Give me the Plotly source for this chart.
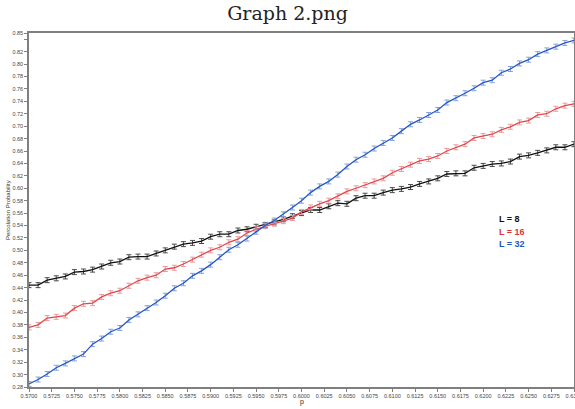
import plotly.graph_objects as go

p_values = [0.570, 0.571, 0.572, 0.573, 0.574, 0.575, 0.576, 0.577, 0.578, 0.579,
            0.580, 0.581, 0.582, 0.583, 0.584, 0.585, 0.586, 0.587, 0.588, 0.589,
            0.590, 0.591, 0.592, 0.593, 0.594, 0.595, 0.596, 0.597, 0.598, 0.599,
            0.600, 0.601, 0.602, 0.603, 0.604, 0.605, 0.606, 0.607, 0.608, 0.609,
            0.610, 0.611, 0.612, 0.613, 0.614, 0.615, 0.616, 0.617, 0.618, 0.619,
            0.620, 0.621, 0.622, 0.623, 0.624, 0.625, 0.626, 0.627, 0.628, 0.629,
            0.630]

prob_L8 = [0.444, 0.444, 0.452, 0.455, 0.458, 0.465, 0.466, 0.469, 0.474, 0.480,
           0.482, 0.489, 0.490, 0.490, 0.495, 0.500, 0.506, 0.510, 0.512, 0.515,
           0.522, 0.526, 0.526, 0.532, 0.534, 0.538, 0.541, 0.545, 0.550, 0.555,
           0.560, 0.565, 0.565, 0.571, 0.576, 0.575, 0.584, 0.588, 0.588, 0.593,
           0.597, 0.599, 0.602, 0.607, 0.611, 0.616, 0.623, 0.624, 0.624, 0.633,
           0.636, 0.639, 0.640, 0.643, 0.651, 0.653, 0.657, 0.661, 0.666, 0.666,
           0.671]

prob_L16 = [0.376, 0.380, 0.391, 0.393, 0.395, 0.407, 0.414, 0.415, 0.425, 0.431,
            0.435, 0.443, 0.451, 0.456, 0.460, 0.470, 0.472, 0.478, 0.485, 0.493,
            0.500, 0.505, 0.513, 0.518, 0.528, 0.534, 0.539, 0.543, 0.547, 0.552,
            0.562, 0.569, 0.575, 0.580, 0.587, 0.595, 0.600, 0.605, 0.611, 0.616,
            0.625, 0.631, 0.638, 0.644, 0.647, 0.652, 0.660, 0.666, 0.671, 0.681,
            0.684, 0.687, 0.694, 0.699, 0.706, 0.709, 0.718, 0.720, 0.728, 0.733,
            0.736]

prob_L32 = [0.285, 0.292, 0.301, 0.311, 0.318, 0.326, 0.333, 0.349, 0.358, 0.369,
            0.375, 0.388, 0.397, 0.407, 0.416, 0.427, 0.439, 0.447, 0.459, 0.467,
            0.477, 0.489, 0.501, 0.509, 0.519, 0.530, 0.540, 0.548, 0.558, 0.569,
            0.580, 0.593, 0.603, 0.611, 0.622, 0.635, 0.646, 0.654, 0.664, 0.673,
            0.681, 0.692, 0.703, 0.710, 0.718, 0.726, 0.738, 0.745, 0.753, 0.761,
            0.770, 0.774, 0.786, 0.792, 0.801, 0.807, 0.816, 0.822, 0.828, 0.834,
            0.838]

err_size = 0.004

series_names = ["L = 8", "L = 16", "L = 32"]

x_tickvals = [0.5700, 0.5725, 0.5750, 0.5775, 0.5800, 0.5825, 0.5850, 0.5875,
              0.5900, 0.5925, 0.5950, 0.5975, 0.6000, 0.6025, 0.6050, 0.6075,
              0.6100, 0.6125, 0.6150, 0.6175, 0.6200, 0.6225, 0.6250, 0.6275, 0.6300]
x_ticktext = ["0.5700", "0.5725", "0.5750", "0.5775", "0.5800", "0.5825", "0.5850", "0.5875",
              "0.5900", "0.5925", "0.5950", "0.5975", "0.6000", "0.6025", "0.6050", "0.6075",
              "0.6100", "0.6125", "0.6150", "0.6175", "0.6200", "0.6225", "0.6250", "0.6275", "0.6300"]

y_tickvals = [0.28, 0.30, 0.32, 0.34, 0.36, 0.38, 0.40, 0.42, 0.44, 0.46, 0.48, 0.50,
              0.52, 0.54, 0.56, 0.58, 0.60, 0.62, 0.64, 0.66, 0.68, 0.70, 0.72, 0.74,
              0.76, 0.78, 0.80, 0.82, 0.84, 0.85]
y_ticktext = ["0.28", "0.30", "0.32", "0.34", "0.36", "0.38", "0.40", "0.42", "0.44", "0.46",
              "0.48", "0.50", "0.52", "0.54", "0.56", "0.58", "0.60", "0.62", "0.64", "0.66",
              "0.68", "0.70", "0.72", "0.74", "0.76", "0.78", "0.80", "0.82", "", "0.85"]

line_colors = ["#111111", "#e0474c", "#2456c8"]
err_colors = ["#4a4a4a", "#e99a9c", "#85a2d8"]
label_colors = ["#111111", "#e0333a", "#2456c8"]

fig = go.Figure()
for name, ys, lc, ec in zip(series_names, [prob_L8, prob_L16, prob_L32], line_colors, err_colors):
    fig.add_trace(go.Scatter(
        x=p_values, y=ys, mode="lines", name=name,
        line=dict(color=lc, width=1.3),
        error_y=dict(type="constant", value=err_size, color=ec, thickness=1, width=2.5),
        showlegend=False,
    ))

W, H = 575, 409
ml, mr, mt, mb = 29, 1, 33, 22
plot_w = W - ml - mr
plot_h = H - mt - mb

legend_y_px = [219, 231.5, 244]
for name, yp, col in zip(series_names, legend_y_px, label_colors):
    fig.add_annotation(
        x=(497 - ml) / plot_w, y=(H - mb - yp) / plot_h, xref="paper", yref="paper",
        text="<b>" + name + "</b>", showarrow=False, xanchor="left", yanchor="middle",
        font=dict(family="Liberation Sans", size=9, color=col),
    )

fig.add_annotation(
    x=(8 - ml) / plot_w, y=0.5, xref="paper", yref="paper", text="Percolation Probability",
    textangle=-90, showarrow=False, xanchor="center", yanchor="middle",
    font=dict(family="Liberation Sans", size=6, color="#333333"),
)
fig.add_annotation(
    x=0.5, y=-(402 - (H - mb)) / plot_h, xref="paper", yref="paper", text="p",
    showarrow=False, xanchor="center", yanchor="middle",
    font=dict(family="Liberation Sans", size=7, color="#222222"),
)

fig.update_layout(
    width=W, height=H,
    margin=dict(l=ml, r=mr, t=mt, b=mb, autoexpand=False),
    paper_bgcolor="white", plot_bgcolor="white",
    title=dict(text="Graph 2.png", x=0.5, xanchor="center", y=1 - 13 / H, yanchor="middle",
               font=dict(family="DejaVu Serif", size=19, color="#222222")),
    xaxis=dict(range=[0.570, 0.630], tickvals=x_tickvals, ticktext=x_ticktext,
               showgrid=False, zeroline=False, showline=True, mirror=True, automargin=False,
               linecolor="#7f7f7f", linewidth=1.5, ticks="outside", ticklen=3,
               tickcolor="#7f7f7f", ticklabeloverflow="allow",
               tickfont=dict(family="Liberation Sans", size=5.5, color="#444444")),
    yaxis=dict(range=[0.28, 0.85], tickvals=y_tickvals, ticktext=y_ticktext,
               showgrid=False, zeroline=False, showline=True, mirror=True, automargin=False,
               linecolor="#7f7f7f", linewidth=1.5, ticks="outside", ticklen=3,
               tickcolor="#7f7f7f", ticklabeloverflow="allow",
               tickfont=dict(family="Liberation Sans", size=5.5, color="#444444")),
)

fig.write_html("out.html")
